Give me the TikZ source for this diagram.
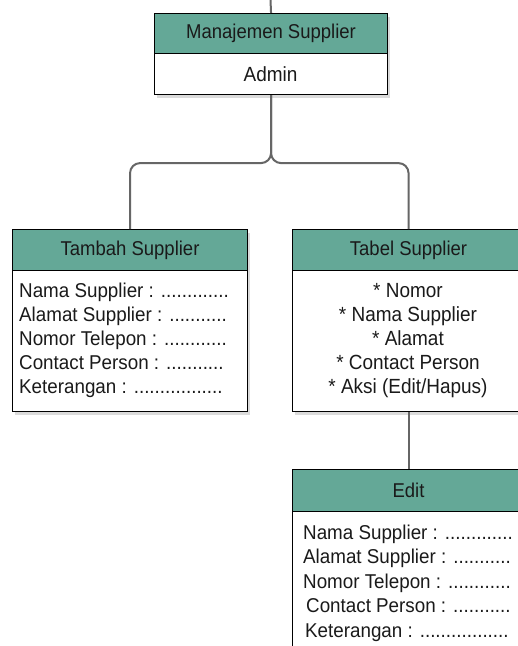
\documentclass[tikz,border=0pt]{standalone}
\usepackage{fontspec}
\setmainfont{Liberation Sans}
\newfontfamily\hdfont[FakeStretch=0.925]{Liberation Sans}
\newfontfamily\bdfont[FakeStretch=0.94]{Liberation Sans}
\usetikzlibrary{shadows}
\definecolor{headteal}{HTML}{64A897}
\definecolor{conngray}{HTML}{666666}
\definecolor{txt}{HTML}{1A1A1A}
\tikzset{
  boxshape/.style={draw=black, line width=1.1pt, fill=white, inner sep=0pt,
    anchor=north west,
    drop shadow={shadow xshift=2.5pt, shadow yshift=-3.5pt, opacity=0.28}},
  headshape/.style={draw=black, line width=1.1pt, fill=headteal, inner sep=0pt,
    anchor=north west, text=txt, font=\hdfont\fontsize{20}{20}\selectfont},
  conn/.style={draw=conngray, line width=2pt},
  smalltxt/.style={anchor=base west, inner sep=0pt, text=txt, font=\bdfont\fontsize{20}{20}\selectfont},
  bigtxt/.style={anchor=base, inner sep=0pt, text=txt, font=\hdfont\fontsize{20.5}{20}\selectfont}
}
\begin{document}
\begin{tikzpicture}[x=1pt,y=-1pt]
\useasboundingbox (0,0) rectangle (518,646);
\clip (0,0) rectangle (518,646);
\fill[white] (0,0) rectangle (518,646);

% main box
\node[boxshape, minimum width=233pt, minimum height=81pt] (main) at (154,13) {};
\node[headshape, minimum width=233pt, minimum height=40pt] (mainh) at (154,13) {Manajemen Supplier};
\node[bigtxt, anchor=center] (admin) at (270.5,74) {Admin};

% left box
\node[boxshape, minimum width=235pt, minimum height=182pt] (left) at (12,229) {};
\node[headshape, minimum width=235pt, minimum height=41pt] (lefth) at (12,229) {Tambah Supplier};
\node[smalltxt] (l1) at (19,297) {Nama Supplier : .............};
\node[smalltxt] (l2) at (19,321.5) {Alamat Supplier : ...........};
\node[smalltxt] (l3) at (19,345.5) {Nomor Telepon : ............};
\node[smalltxt] (l4) at (19,369.5) {Contact Person : ...........};
\node[smalltxt] (l5) at (19,393.5) {Keterangan : .................};

% right box
\node[boxshape, minimum width=232pt, minimum height=182pt] (tabel) at (292,229) {};
\node[headshape, minimum width=232pt, minimum height=41pt] (tabelh) at (292,229) {Tabel Supplier};
\node[bigtxt] (t1) at (408,297) {* Nomor};
\node[bigtxt] (t2) at (408,321) {* Nama Supplier};
\node[bigtxt] (t3) at (408,345) {* Alamat};
\node[bigtxt] (t4) at (408,369) {* Contact Person};
\node[bigtxt] (t5) at (408,393) {* Aksi (Edit/Hapus)};

% edit box
\node[boxshape, minimum width=232pt, minimum height=200pt] (edit) at (292,469) {};
\node[headshape, minimum width=232pt, minimum height=42pt] (edith) at (292,469) {Edit};
\node[smalltxt] (e1) at (303,539) {Nama Supplier : .............};
\node[smalltxt] (e2) at (303,563.5) {Alamat Supplier : ...........};
\node[smalltxt] (e3) at (303,588) {Nomor Telepon : ............};
\node[smalltxt] (e4) at (306,612.5) {Contact Person : ...........};
\node[smalltxt] (e5) at (305,637) {Keterangan : .................};

% connectors
\coordinate (topend) at (270.5,0);
\draw[conn] (topend) -- (main.north);
\draw[conn, rounded corners=10pt] (main.south) -- ++(0,68) -| (left.north);
\draw[conn, rounded corners=10pt] (main.south) -- ++(0,68) -| (tabel.north);
\draw[conn] (tabel.south) -- (edit.north);
\end{tikzpicture}
\end{document}
